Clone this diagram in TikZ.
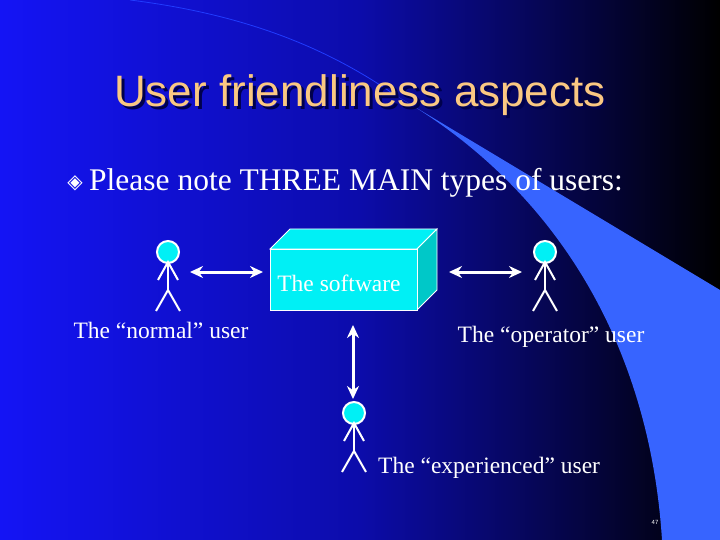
\documentclass[tikz,border=0pt]{standalone}
\usepackage{fontspec}
\usetikzlibrary{arrows.meta}
\setmainfont{Liberation Serif}
\newfontfamily\arialf{Liberation Sans}
\newfontfamily\djv{DejaVu Sans}
\begin{document}
\begin{tikzpicture}[x=1pt,y=-1pt,
  stk/.style={white,line width=2pt},
  dbl/.style={white,line width=3pt,{Stealth[length=13pt,width=12pt]}-{Stealth[length=13pt,width=12pt]}},
  lbl/.style={white,font=\fontsize{23.5}{26}\selectfont,inner sep=0pt}]
\definecolor{crest}{RGB}{55,100,255}
\definecolor{cyanb}{RGB}{0,240,245}
\definecolor{cyand}{RGB}{0,200,200}
\definecolor{titlec}{RGB}{250,200,130}
\useasboundingbox (0,0) rectangle (720,540);
\shade[left color={rgb,255:red,20;green,20;blue,245}, right color=black, middle color={rgb,255:red,12;green,12;blue,170}] (0,0) rectangle (720,540);
\fill[crest] (395,95) .. controls (560,190) and (650,350) .. (662,540) -- (720,540) -- (720,290) -- cycle;
\draw[crest!60!blue,line width=0.8pt] (130,0) .. controls (250,15) and (330,50) .. (395,95);
% title
\node[font=\arialf\fontsize{44}{48}\selectfont,black!70!blue] (tsh) at (363,98) {User friendliness aspects};
\node[font=\arialf\fontsize{44}{48}\selectfont,titlec] (title) at (360,95) {User friendliness aspects};
% bullet
\node[font=\djv\fontsize{20}{22}\selectfont,white,inner sep=0pt] (bul) at (75,183) {◈};
\node[white,font=\fontsize{31.5}{34}\selectfont,anchor=west,inner sep=0pt] (bt) at (89,183) {Please note THREE MAIN types of users:};
% box
\fill[cyanb,draw=white,line width=0.8pt] (270,249) -- (290,229) -- (437,229) -- (417,249) -- cycle;
\fill[cyand,draw=white,line width=0.8pt] (417,249) -- (437,229) -- (437,290) -- (417,310) -- cycle;
\node[fill=cyanb,draw=white,line width=0.8pt,minimum width=147pt,minimum height=61pt,anchor=north west,inner sep=0pt] (sw) at (270,249) {};
\node[white,font=\fontsize{23.5}{26}\selectfont,inner sep=0pt] (swt) at (339,283) {The software};
% figures
\foreach \n/\cx/\cy in {nu/168/252, op/545/252, ex/354/413}{
  \node[circle,fill=cyanb,draw=white,line width=2pt,minimum size=22pt,inner sep=0pt] (\n) at (\cx,\cy) {};
  \draw[stk] (\n.south) -- ++(0,26) coordinate (\n h);
  \draw[stk] ([yshift=2pt]\n.south) coordinate (\n s) ++(-10,18) -- (\n s) -- ++(10,18);
  \draw[stk] (\n h) ++(-12,21) -- (\n h) -- ++(12,21);
}
\coordinate (a1) at (190,272); \coordinate (a2) at (263,272);
\coordinate (b1) at (449,272); \coordinate (b2) at (522,272);
\coordinate (c1) at (353,325); \coordinate (c2) at (353,399);
\draw[dbl] (a1) -- (a2);
\draw[dbl] (b1) -- (b2);
\draw[dbl] (c1) -- (c2);
\node[lbl] (l1) at (161,330) {The “normal” user};
\node[lbl] (l2) at (551,337) {The “operator” user};
\node[lbl,anchor=west] (l3) at (378,468) {The “experienced” user};
\node[white,font=\arialf\fontsize{6}{7}\selectfont,inner sep=0pt] (pg) at (655,522) {47};
\end{tikzpicture}
\end{document}
